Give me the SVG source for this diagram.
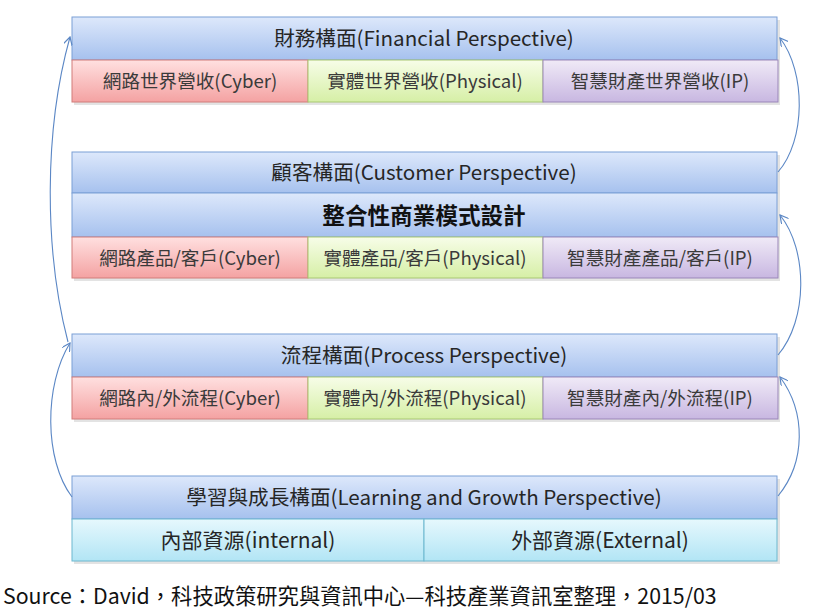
<svg xmlns="http://www.w3.org/2000/svg" width="831" height="612" viewBox="0 0 831 612">
<defs>
<linearGradient id="gB" x1="0" y1="0" x2="0" y2="1"><stop offset="0" stop-color="#dde8fb"/><stop offset="1" stop-color="#a6c1ee"/></linearGradient>
<linearGradient id="gR" x1="0" y1="0" x2="0" y2="1"><stop offset="0" stop-color="#ffe0e0"/><stop offset="1" stop-color="#f4a2a2"/></linearGradient>
<linearGradient id="gG" x1="0" y1="0" x2="0" y2="1"><stop offset="0" stop-color="#f7fde8"/><stop offset="1" stop-color="#d6efa6"/></linearGradient>
<linearGradient id="gP" x1="0" y1="0" x2="0" y2="1"><stop offset="0" stop-color="#f0eaf7"/><stop offset="1" stop-color="#c8b7e1"/></linearGradient>
<linearGradient id="gC" x1="0" y1="0" x2="0" y2="1"><stop offset="0" stop-color="#e6f8fd"/><stop offset="1" stop-color="#b2e5f5"/></linearGradient>
<marker id="arr" viewBox="0 0 10 10" refX="9" refY="5" markerWidth="9" markerHeight="9" orient="auto" markerUnits="userSpaceOnUse"><path d="M0,0 L9,5 L0,10" fill="none" stroke="#5b87c5" stroke-width="1.3"/></marker>
</defs>
<style>
.sh{fill:#d0d0d0;opacity:0.6}
.b{fill:url(#gB);stroke:#7b9fd6;stroke-width:1}
.r{fill:url(#gR);stroke:#d27c7a;stroke-width:1}
.g{fill:url(#gG);stroke:#a9c873;stroke-width:1}
.p{fill:url(#gP);stroke:#9b87b9;stroke-width:1}
.c{fill:url(#gC);stroke:#6cb8cf;stroke-width:1}
text{font-family:"Noto Sans CJK TC","Noto Sans",sans-serif;text-anchor:middle}
.h{font-size:20.6px;fill:#262626}
.s{font-size:18.6px;fill:#3a3a3a}
.t{font-size:21px;fill:#262626}
.m{font-size:22.6px;fill:#111;font-weight:bold}
.src{font-size:21.3px;fill:#111;text-anchor:start}
.con{fill:none;stroke:#5b87c5;stroke-width:1.1}
</style>
<g id="shadows">
<rect class="sh" x="74" y="20" width="706" height="85"/>
<rect class="sh" x="74" y="155" width="706" height="126"/>
<rect class="sh" x="74" y="337" width="706" height="85"/>
<rect class="sh" x="74" y="479" width="706" height="85"/>
</g>
<g id="financial"><rect class="b" x="72" y="17" width="705" height="43"/><text class="h" x="424" y="46">財務構面(Financial  Perspective)</text></g>
<g id="fin-cyber"><rect class="r" x="72" y="60" width="236" height="42"/><text class="s" x="190" y="88">網路世界營收(Cyber)</text></g>
<g id="fin-physical"><rect class="g" x="308" y="60" width="235" height="42"/><text class="s" x="425" y="88">實體世界營收(Physical)</text></g>
<g id="fin-ip"><rect class="p" x="543" y="60" width="235" height="42"/><text class="s" x="660" y="88">智慧財產世界營收(IP)</text></g>

<g id="customer"><rect class="b" x="72" y="152" width="705" height="41"/><text class="h" x="424" y="180">顧客構面(Customer Perspective)</text></g>
<g id="integrated"><rect class="b" x="72" y="193" width="705" height="44"/><text class="m" x="424" y="224">整合性商業模式設計</text></g>
<g id="cus-cyber"><rect class="r" x="72" y="237" width="236" height="41"/><text class="s" x="190" y="265">網路產品/客戶(Cyber)</text></g>
<g id="cus-physical"><rect class="g" x="308" y="237" width="235" height="41"/><text class="s" x="425" y="265">實體產品/客戶(Physical)</text></g>
<g id="cus-ip"><rect class="p" x="543" y="237" width="235" height="41"/><text class="s" x="660" y="265">智慧財產產品/客戶(IP)</text></g>

<g id="process"><rect class="b" x="72" y="334" width="705" height="43"/><text class="h" x="424" y="363">流程構面(Process Perspective)</text></g>
<g id="pro-cyber"><rect class="r" x="72" y="377" width="236" height="42"/><text class="s" x="190" y="405">網路內/外流程(Cyber)</text></g>
<g id="pro-physical"><rect class="g" x="308" y="377" width="235" height="42"/><text class="s" x="425" y="405">實體內/外流程(Physical)</text></g>
<g id="pro-ip"><rect class="p" x="543" y="377" width="235" height="42"/><text class="s" x="660" y="405">智慧財產內/外流程(IP)</text></g>

<g id="learning"><rect class="b" x="72" y="476" width="705" height="43"/><text class="h" x="424" y="505">學習與成長構面(Learning and Growth Perspective)</text></g>
<g id="lea-internal"><rect class="c" x="72" y="519" width="352" height="42"/><text class="t" x="248" y="548">內部資源(internal)</text></g>
<g id="lea-external"><rect class="c" x="424" y="519" width="353" height="42"/><text class="t" x="600" y="548">外部資源(External)</text></g>

<g id="connectors">
<path class="con" d="M68,342 C44,250 44,130 70,37" marker-end="url(#arr)"/>
<path class="con" d="M72,497 C44,460 44,385 70,343" marker-end="url(#arr)"/>
<path class="con" d="M778,172 C806,140 806,72 780,38" marker-end="url(#arr)"/>
<path class="con" d="M778,355 C808,320 808,250 780,215" marker-end="url(#arr)"/>
<path class="con" d="M778,496 C806,462 806,412 780,377" marker-end="url(#arr)"/>
</g>
<text class="src" x="3" y="604">Source：David，科技政策研究與資訊中心—科技產業資訊室整理，2015/03</text>
</svg>
